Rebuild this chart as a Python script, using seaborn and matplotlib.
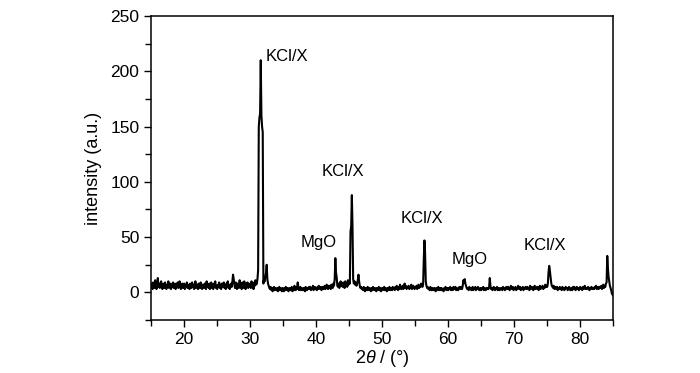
import numpy as np
import pandas as pd
import matplotlib
matplotlib.use("Agg")
import matplotlib.pyplot as plt
import seaborn as sns
from matplotlib.ticker import MultipleLocator

# XRD pattern, 0.1 degree steps from 15.0 to 85.0
two_theta = np.round(np.arange(150, 851) / 10.0, 1)
intensity = [
    5, 8, 3, 9, 6, 4, 11, 7, 3, 6,          # 15
    13, 5, 8, 4, 7, 10, 5, 3, 8, 6,         # 16
    4, 9, 6, 3, 7, 5, 10, 4, 6, 8,          # 17
    3, 7, 5, 9, 4, 6, 8, 3, 7, 5,           # 18
    9, 4, 6, 10, 5, 3, 7, 8, 4, 6,          # 19
    8, 3, 6, 5, 9, 4, 7, 5, 3, 8,           # 20
    6, 4, 9, 5, 7, 3, 6, 10, 4, 5,          # 21
    7, 3, 8, 5, 4, 9, 6, 3, 7, 5,           # 22
    4, 8, 6, 3, 10, 5, 7, 4, 8, 3,          # 23
    6, 9, 4, 7, 3, 8, 5, 10, 4, 6,          # 24
    3, 7, 5, 9, 4, 6, 3, 8, 5, 7,           # 25
    9, 4, 6, 3, 8, 5, 10, 4, 7, 3,          # 26
    6, 8, 5, 10, 16, 12, 7, 4, 9, 5,        # 27
    3, 8, 6, 4, 11, 5, 7, 3, 9, 6,          # 28
    4, 10, 6, 3, 8, 5, 9, 4, 7, 6,          # 29
    8, 4, 10, 5, 7, 3, 9, 6, 11, 7,         # 30
    8, 12, 20, 150, 158, 162, 210, 160, 150, 145,  # 31
    8, 12, 10, 14, 18, 25, 12, 8, 6, 4,     # 32
    3, 5, 2, 4, 1, 3, 5, 2, 4, 3,           # 33
    2, 4, 1, 3, 5, 2, 4, 3, 1, 4,           # 34
    3, 1, 4, 2, 5, 3, 2, 4, 1, 3,           # 35
    4, 2, 3, 5, 1, 4, 2, 6, 3, 2,           # 36
    5, 3, 9, 4, 2, 3, 5, 2, 4, 3,           # 37
    2, 4, 3, 1, 5, 3, 2, 4, 3, 5,           # 38
    3, 5, 2, 4, 3, 6, 2, 4, 5, 3,           # 39
    4, 2, 5, 3, 6, 4, 3, 5, 2, 4,           # 40
    5, 3, 4, 6, 3, 5, 7, 4, 3, 6,           # 41
    4, 6, 3, 7, 5, 4, 8, 6, 12, 31,         # 42
    18, 14, 6, 5, 8, 4, 7, 10, 6, 8,        # 43
    5, 9, 7, 4, 10, 6, 8, 5, 11, 7,         # 44
    9, 8, 55, 60, 88, 60, 12, 8, 10, 7,     # 45
    9, 6, 8, 11, 16, 10, 6, 4, 5, 3,        # 46
    4, 2, 5, 3, 1, 4, 3, 2, 5, 3,           # 47
    2, 4, 3, 1, 4, 2, 5, 3, 2, 4,           # 48
    3, 1, 4, 2, 3, 5, 2, 4, 1, 3,           # 49
    4, 2, 3, 5, 2, 4, 3, 1, 4, 2,           # 50
    3, 5, 2, 4, 3, 2, 5, 3, 4, 2,           # 51
    5, 3, 6, 4, 2, 5, 3, 7, 4, 3,           # 52
    4, 6, 3, 5, 8, 4, 6, 3, 5, 4,           # 53
    6, 3, 5, 4, 7, 3, 5, 6, 4, 3,           # 54
    5, 4, 6, 3, 5, 7, 4, 6, 5, 8,           # 55
    6, 5, 7, 30, 47, 35, 10, 6, 4, 5,       # 56
    3, 4, 2, 5, 3, 2, 4, 3, 2, 4,           # 57
    3, 1, 4, 2, 3, 5, 2, 3, 4, 2,           # 58
    4, 2, 3, 1, 4, 3, 5, 2, 3, 4,           # 59
    2, 4, 3, 5, 2, 3, 4, 2, 5, 3,           # 60
    3, 5, 2, 4, 3, 2, 4, 5, 3, 4,           # 61
    5, 3, 6, 11, 9, 12, 8, 6, 4, 3,        # 62
    4, 2, 5, 3, 4, 2, 3, 5, 2, 4,           # 63
    3, 5, 2, 4, 3, 5, 4, 2, 3, 4,           # 64
    2, 4, 3, 5, 2, 4, 3, 2, 4, 3,           # 65
    4, 3, 5, 13, 6, 3, 4, 2, 3, 5,          # 66
    3, 2, 4, 3, 5, 2, 3, 4, 2, 3,           # 67
    4, 3, 2, 5, 3, 4, 2, 3, 5, 4,           # 68
    3, 5, 4, 2, 3, 6, 4, 3, 5, 2,           # 69
    4, 3, 5, 2, 4, 3, 6, 4, 3, 5,           # 70
    2, 4, 3, 5, 2, 4, 3, 5, 4, 3,           # 71
    5, 3, 4, 2, 6, 3, 4, 5, 3, 2,           # 72
    4, 6, 3, 5, 4, 3, 5, 2, 4, 6,           # 73
    3, 5, 4, 6, 3, 5, 4, 7, 5, 6,           # 74
    5, 8, 18, 24, 20, 14, 9, 6, 5, 4,       # 75
    6, 3, 5, 4, 3, 5, 2, 4, 3, 5,           # 76
    3, 4, 2, 5, 3, 4, 2, 3, 5, 4,           # 77
    4, 2, 3, 5, 4, 2, 3, 4, 2, 5,           # 78
    3, 5, 4, 2, 3, 5, 3, 4, 2, 3,           # 79
    5, 3, 4, 2, 5, 3, 4, 6, 3, 4,           # 80
    3, 4, 5, 3, 2, 4, 3, 5, 4, 3,           # 81
    4, 3, 5, 4, 6, 3, 4, 5, 3, 5,           # 82
    5, 4, 6, 3, 5, 7, 4, 6, 5, 8,           # 83
    9, 33, 22, 14, 10, 6, 4, 2, -1, -2,     # 84
    -3,                                     # 85
]

peak_labels = ["KCl/X", "MgO", "KCl/X", "KCl/X", "MgO", "KCl/X"]
label_x = [35.6, 40.4, 44.0, 56.0, 63.3, 74.6]
label_y = [213, 45, 109, 67, 30, 42]

df = pd.DataFrame({"two_theta": two_theta, "intensity": intensity})

sns.set_style("ticks")
plt.rcParams["font.family"] = ["Liberation Sans", "DejaVu Sans"]
plt.rcParams["mathtext.fontset"] = "custom"
plt.rcParams["mathtext.it"] = "Liberation Sans:italic"
plt.rcParams["mathtext.rm"] = "Liberation Sans"
for key in ["text.color", "axes.labelcolor", "xtick.color", "ytick.color", "axes.edgecolor"]:
    plt.rcParams[key] = "black"

fig = plt.figure(figsize=(7.0, 3.73), dpi=100)
ax = fig.add_axes([0.216, 0.142, 0.660, 0.815])

sns.lineplot(data=df, x="two_theta", y="intensity", color="black",
             linewidth=1.5, ax=ax)

for t, x, y in zip(peak_labels, label_x, label_y):
    ax.text(x, y, t, ha="center", va="center", fontsize=12, color="black")

ax.set_xlim(15, 85)
ax.set_ylim(-25, 250)
ax.xaxis.set_major_locator(MultipleLocator(10))
ax.xaxis.set_minor_locator(MultipleLocator(5))
ax.yaxis.set_major_locator(MultipleLocator(50))
ax.yaxis.set_minor_locator(MultipleLocator(25))
ax.tick_params(which="major", direction="out", length=5, width=1, labelsize=12.5,
               top=False, right=False, colors="black")
ax.tick_params(which="minor", direction="out", length=4, width=1,
               top=False, right=False, colors="black")
for s in ax.spines.values():
    s.set_linewidth(1.1)
    s.set_color("black")

ax.set_xlabel(r"2$\it{\theta}$ / (°)", fontsize=13, labelpad=1, color="black")
ax.set_ylabel("intensity (a.u.)", fontsize=13, labelpad=6, color="black")

fig.savefig("out.png", dpi=100)
